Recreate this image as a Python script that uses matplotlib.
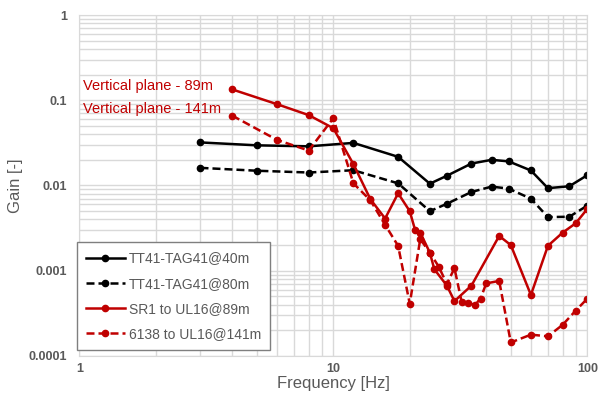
import matplotlib
matplotlib.use("Agg")
import matplotlib.pyplot as plt
from matplotlib.ticker import LogLocator, FixedLocator, FixedFormatter, NullFormatter

plt.rcParams["font.family"] = ["Liberation Sans", "DejaVu Sans"]

# TT41-TAG41 measurements
f_tt41 = [3, 5, 8, 12, 18, 24, 28, 35, 42, 49, 60, 70, 85, 100]
g_40m = [0.032, 0.0296, 0.0288, 0.0316, 0.0217, 0.0105, 0.013, 0.0181,
         0.020, 0.0192, 0.015, 0.0093, 0.0098, 0.0132]
g_80m = [0.0161, 0.0149, 0.0142, 0.0151, 0.0106, 0.0050, 0.0061, 0.0084,
         0.0097, 0.0092, 0.0070, 0.00426, 0.0043, 0.0058]

# SR1 to UL16 @ 89m
f_89m = [4, 6, 8, 10, 12, 14, 16, 18, 20, 21, 22, 24, 25, 28, 30, 35,
         45, 50, 60, 70, 80, 90, 100]
g_89m = [0.134, 0.090, 0.067, 0.047, 0.0178, 0.0069, 0.0041, 0.0081,
         0.0050, 0.0030, 0.0028, 0.00163, 0.00104, 0.00067, 0.00044,
         0.00067, 0.00256, 0.0020, 0.00052, 0.00196, 0.0028, 0.0036, 0.0053]

# 6138 to UL16 @ 141m
f_141m = [4, 6, 8, 10, 12, 14, 16, 18, 20, 22, 24, 26, 28, 30, 32, 34,
          36, 38, 40, 45, 50, 60, 70, 80, 90, 100]
g_141m = [0.066, 0.0343, 0.0257, 0.0615, 0.0106, 0.0067, 0.00345, 0.00196,
          0.00041, 0.00235, 0.00163, 0.00112, 0.0007, 0.00107, 0.000435,
          0.000424, 0.000395, 0.00047, 0.00071, 0.00076, 0.000144, 0.000178,
          0.00017, 0.000232, 0.00034, 0.00047]

y_ticks = [1, 0.1, 0.01, 0.001, 0.0001]
y_labels = ["1", "0.1", "0.01", "0.001", "0.0001"]
x_ticks = [1, 10, 100]
x_labels = ["1", "10", "100"]

red = "#C00000"
grey = "#595959"

fig = plt.figure(figsize=(5.99, 4.08), dpi=100)
ax = fig.add_axes([0.1324, 0.1275, 0.848, 0.8357])

kw = dict(marker="o", markersize=4.5, linewidth=1.8)
dash = (0, (3.2, 1.6))
ax.plot(f_tt41, g_40m, color="black", label="TT41-TAG41@40m", **kw)
ax.plot(f_tt41, g_80m, color="black", linestyle=dash,
        label="TT41-TAG41@80m", **kw)
ax.plot(f_89m, g_89m, color=red, label="SR1 to UL16@89m", **kw)
ax.plot(f_141m, g_141m, color=red, linestyle=dash,
        label="6138 to UL16@141m", **kw)

ax.set_xscale("log")
ax.set_yscale("log")
ax.set_xlim(1, 100)
ax.set_ylim(0.0001, 1)

ax.xaxis.set_major_locator(FixedLocator(x_ticks))
ax.xaxis.set_major_formatter(FixedFormatter(x_labels))
ax.yaxis.set_major_locator(FixedLocator(y_ticks))
ax.yaxis.set_major_formatter(FixedFormatter(y_labels))
ax.xaxis.set_minor_locator(LogLocator(base=10, subs=range(2, 10)))
ax.yaxis.set_minor_locator(LogLocator(base=10, subs=range(2, 10)))
ax.xaxis.set_minor_formatter(NullFormatter())
ax.yaxis.set_minor_formatter(NullFormatter())

ax.grid(which="both", color="#D9D9D9", linewidth=1.0)
ax.set_axisbelow(True)
for s in ax.spines.values():
    s.set_color("#D9D9D9")
ax.tick_params(which="both", length=0, labelsize=9, colors=grey)
ax.tick_params(axis="x", pad=5)
ax.tick_params(axis="y", pad=9)
for lb in ax.get_xticklabels() + ax.get_yticklabels():
    lb.set_fontweight("bold")

ax.set_xlabel("Frequency [Hz]", fontsize=12, color=grey, labelpad=1)
ax.set_ylabel("Gain [-]", fontsize=12, color=grey, labelpad=4)

ax.text(0.008, 0.792, "Vertical plane - 89m", transform=ax.transAxes,
        color=red, fontsize=10.5, va="center", ha="left")
ax.text(0.008, 0.724, "Vertical plane - 141m", transform=ax.transAxes,
        color=red, fontsize=10.5, va="center", ha="left")

leg = ax.legend(loc="lower left", bbox_to_anchor=(-0.005, 0.018),
                borderaxespad=0, fontsize=10, handlelength=2.8,
                handletextpad=0.3, labelspacing=0.8, fancybox=False,
                framealpha=1, edgecolor="#7F7F7F", borderpad=0.65)
leg.get_frame().set_linewidth(1.0)
for t in leg.get_texts():
    t.set_color(grey)

fig.savefig("out.png", dpi=100)
